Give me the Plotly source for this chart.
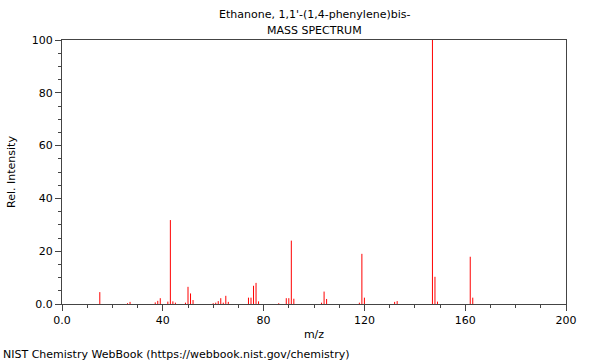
import plotly.graph_objects as go

mz = [15, 26, 27, 37, 38, 39, 42, 43, 44, 45, 49, 50, 51, 52, 60, 61, 62, 63, 64, 65, 66,
      74, 75, 76, 77, 78, 86, 89, 90, 91, 92, 103, 104, 105, 118, 119, 120, 132, 133,
      147, 148, 149, 162, 163]
intensity = [4.5, 0.3, 0.8, 0.6, 1.2, 2.2, 0.9, 31.8, 1.0, 0.5, 0.5, 6.5, 4.0, 1.5, 0.3, 0.5,
             1.1, 2.2, 0.5, 3.1, 0.8, 2.4, 2.4, 6.9, 8.0, 1.0, 0.3, 2.2, 2.2, 24.0, 2.0, 0.5,
             4.7, 1.9, 0.5, 19.0, 2.4, 0.8, 1.1, 100, 10.3, 0.9, 17.9, 2.4]

x_ticks = [0, 40, 80, 120, 160, 200]
x_labels = ["0.0", "40", "80", "120", "160", "200"]
y_ticks = [0, 20, 40, 60, 80, 100]
y_labels = ["0.0", "20", "40", "60", "80", "100"]

xs, ys = [], []
for m, i in zip(mz, intensity):
    xs += [m, m, None]
    ys += [0, i, None]

font = "DejaVu Sans, sans-serif"
axis_col = "#444444"

fig = go.Figure()
fig.add_trace(go.Scatter(x=xs, y=ys, mode="lines",
                         line=dict(color="#ff0000", width=1),
                         hoverinfo="skip", showlegend=False))

fig.update_layout(
    width=600, height=360,
    margin=dict(l=62, r=34, t=40, b=56, autoexpand=False),
    paper_bgcolor="white", plot_bgcolor="white",
    font=dict(family=font, size=11, color="black"),
    annotations=[
        dict(text="Ethanone, 1,1'-(1,4-phenylene)bis-", x=0.5, y=1, xref="paper", yref="paper",
             yshift=26, showarrow=False, xanchor="center", yanchor="middle",
             font=dict(family=font, size=11)),
        dict(text="MASS SPECTRUM", x=0.5, y=1, xref="paper", yref="paper",
             yshift=10, showarrow=False, xanchor="center", yanchor="middle",
             font=dict(family=font, size=11)),
        dict(text="NIST Chemistry WebBook (https://webbook.nist.gov/chemistry)",
             x=-61/504, y=0, xref="paper", yref="paper", yshift=-50,
             showarrow=False, xanchor="left", yanchor="middle",
             font=dict(family=font, size=11)),
    ],
)
fig.update_xaxes(
    range=[0, 200], tickvals=x_ticks, ticktext=x_labels,
    ticks="outside", ticklen=6, tickcolor=axis_col,
    minor=dict(dtick=10, tick0=0, ticks="outside", ticklen=3, tickcolor=axis_col),
    showline=True, linecolor=axis_col, linewidth=1, mirror=True,
    showgrid=False, zeroline=False, automargin=False,
    title=dict(text="m/z", font=dict(family=font, size=11), standoff=4),
)
fig.update_yaxes(
    range=[0, 100], tickvals=y_ticks, ticktext=y_labels,
    ticks="outside", ticklen=6, tickcolor=axis_col,
    minor=dict(dtick=5, tick0=0, ticks="outside", ticklen=3, tickcolor=axis_col),
    showline=True, linecolor=axis_col, linewidth=1, mirror=True,
    showgrid=False, zeroline=False, automargin=False,
    title=dict(text="Rel. Intensity", font=dict(family=font, size=11), standoff=13),
)

fig.write_html("out.html", config={"displayModeBar": False},
               post_script="document.body.style.margin='0';")
